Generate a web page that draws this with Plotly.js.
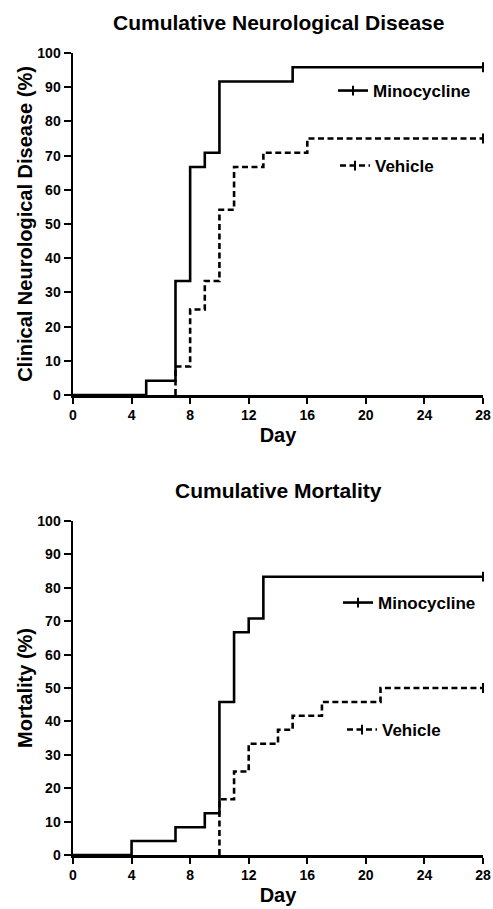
<!DOCTYPE html>
<html>
<head>
<meta charset="utf-8">
<script src="https://cdn.plot.ly/plotly-3.0.1.min.js"></script>
<style>
  html, body { margin: 0; padding: 0; background: #fff; }
  #chart { width: 493px; height: 909px; }
</style>
</head>
<body>
<div id="chart"></div>
<script>
// ---- Data ----
const seriesNames = ["Minocycline", "Vehicle"];
const dayTicks = [0, 4, 8, 12, 16, 20, 24, 28];
const pctTicks = [0, 10, 20, 30, 40, 50, 60, 70, 80, 90, 100];

// Cumulative Neurological Disease (%) – step points (day, cumulative %)
const neuroMinoDays = [0, 5, 7, 8, 9, 10, 15, 28];
const neuroMinoPct  = [0, 4.17, 33.33, 66.67, 70.83, 91.67, 95.83, 95.83];
const neuroVehDays  = [7, 7, 8, 9, 10, 11, 13, 16, 28];
const neuroVehPct   = [0, 8.33, 25.0, 33.33, 54.17, 66.67, 70.83, 75.0, 75.0];

// Cumulative Mortality (%)
const mortMinoDays = [0, 4, 7, 9, 10, 11, 12, 13, 28];
const mortMinoPct  = [0, 4.17, 8.33, 12.5, 45.83, 66.67, 70.83, 83.33, 83.33];
const mortVehDays  = [10, 10, 11, 12, 14, 15, 17, 21, 28];
const mortVehPct   = [0, 16.67, 25.0, 33.33, 37.5, 41.67, 45.83, 50.0, 50.0];

const titles = ["Cumulative Neurological Disease", "Cumulative Mortality"];
const yTitles = ["Clinical Neurological Disease (%)", "Mortality (%)"];
const xTitle = "Day";

// ---- Styles ----
const FONT = "Liberation Sans, Arial, Helvetica, sans-serif";
const lineW = 2.6;
const solid = { color: "#000", width: lineW, shape: "hv" };
const dashed = { color: "#000", width: lineW, shape: "hv", dash: "6px,3.5px" };
const censor = { symbol: "line-ns", size: 7, line: { color: "#000", width: 2 }, color: "#000" };

function stepTrace(x, y, line, xa, ya) {
  return { type: "scatter", mode: "lines", x: x, y: y, line: line,
           xaxis: xa, yaxis: ya, showlegend: false, hoverinfo: "skip" };
}
function censorTrace(x, y, line, xa, ya, name, legend) {
  return { type: "scatter", mode: "lines+markers", x: [x[x.length - 1]], y: [y[y.length - 1]],
           line: Object.assign({}, line, { shape: "linear" }), marker: censor, cliponaxis: false,
           xaxis: xa, yaxis: ya, name: name, legend: legend, showlegend: true, hoverinfo: "skip" };
}

const data = [
  stepTrace(neuroMinoDays, neuroMinoPct, solid, "x", "y"),
  stepTrace(neuroVehDays, neuroVehPct, dashed, "x", "y"),
  censorTrace(neuroMinoDays, neuroMinoPct, solid, "x", "y", seriesNames[0], "legend"),
  censorTrace(neuroVehDays, neuroVehPct, dashed, "x", "y", seriesNames[1], "legend2"),
  stepTrace(mortMinoDays, mortMinoPct, solid, "x2", "y2"),
  stepTrace(mortVehDays, mortVehPct, dashed, "x2", "y2"),
  censorTrace(mortMinoDays, mortMinoPct, solid, "x2", "y2", seriesNames[0], "legend3"),
  censorTrace(mortVehDays, mortVehPct, dashed, "x2", "y2", seriesNames[1], "legend4")
];

const H = 909;
function py(px) { return 1 - px / H; }

function xAxis(anchor) {
  return {
    anchor: anchor, domain: [0, 1], range: [0, 28], fixedrange: true,
    tickvals: dayTicks, ticktext: dayTicks.map(String),
    ticks: "outside", ticklen: 6, tickwidth: 2, tickcolor: "#000",
    showline: true, linewidth: 2.5, linecolor: "#000",
    showgrid: false, zeroline: false,
    tickfont: { family: FONT, size: 14, weight: "bold", color: "#000" },
    title: { text: xTitle, standoff: 6, font: { family: FONT, size: 20, weight: "bold", color: "#000" } },
    automargin: false
  };
}
function yAxis(anchor, domain, title) {
  return {
    anchor: anchor, domain: domain, range: [0, 100], fixedrange: true,
    tickvals: pctTicks, ticktext: pctTicks.map(String),
    ticks: "outside", ticklen: 7, tickwidth: 2, tickcolor: "#000",
    showline: true, linewidth: 2.5, linecolor: "#000",
    showgrid: false, zeroline: false,
    tickfont: { family: FONT, size: 14, weight: "bold", color: "#000" },
    title: { text: title, standoff: 0, font: { family: FONT, size: 20, weight: "bold", color: "#000" } },
    automargin: false
  };
}
function legendAt(xpx, ypx) {
  return {
    x: (xpx - 73) / 410, y: py(ypx), xanchor: "left", yanchor: "middle",
    bgcolor: "rgba(0,0,0,0)", borderwidth: 0,
    font: { family: FONT, size: 17, weight: "bold", color: "#000" },
    itemsizing: "trace"
  };
}

const layout = {
  width: 493, height: 909,
  margin: { l: 73, r: 10, t: 0, b: 0, pad: 0 },
  paper_bgcolor: "#fff", plot_bgcolor: "#fff",
  font: { family: FONT, color: "#000" },
  xaxis: xAxis("y"),
  yaxis: yAxis("x", [py(395), py(53)], yTitles[0]),
  xaxis2: xAxis("y2"),
  yaxis2: yAxis("x2", [py(855), py(521)], yTitles[1]),
  legend: legendAt(333, 91),
  legend2: legendAt(335, 166),
  legend3: legendAt(338, 603),
  legend4: legendAt(342, 730),
  annotations: [
    { text: titles[0], xref: "paper", yref: "paper", x: 0.5, y: py(22), xanchor: "center", yanchor: "middle",
      showarrow: false, font: { family: FONT, size: 21, weight: "bold", color: "#000" } },
    { text: titles[1], xref: "paper", yref: "paper", x: 0.5, y: py(490), xanchor: "center", yanchor: "middle",
      showarrow: false, font: { family: FONT, size: 21, weight: "bold", color: "#000" } }
  ],
  showlegend: true
};

Plotly.newPlot("chart", data, layout, { displayModeBar: false, staticPlot: true });
</script>
</body>
</html>
